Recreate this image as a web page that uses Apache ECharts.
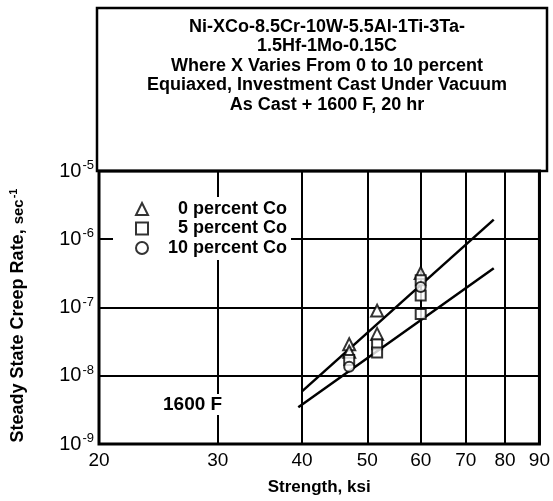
<!DOCTYPE html>
<html>
<head>
<meta charset="utf-8">
<script src="https://cdn.jsdelivr.net/npm/echarts@6/dist/echarts.min.js"></script>
<style>
  html, body { margin: 0; padding: 0; background: #fff; }
  #chart { width: 553px; height: 501px; }
</style>
</head>
<body>
<div id="chart"></div>
<script>
// Strength (ksi) tick values on the log x axis
const strengthTicks = [20, 30, 40, 50, 60, 70, 80, 90];
// Creep-rate decades on the log y axis (sec^-1)
const rateTicks = [1e-9, 1e-8, 1e-7, 1e-6, 1e-5];

// Measured points: [strength ksi, steady state creep rate sec^-1]
const co0Points = [[47, 2.9e-8], [47, 2.25e-8], [51.7, 9e-8], [51.7, 4.1e-8], [60, 3.2e-7]];
const co5Points = [[47, 1.7e-8], [51.7, 2.9e-8], [51.7, 2.2e-8], [60, 2.5e-7], [60, 1.5e-7], [60, 8e-8]];
const co10Points = [[47, 1.35e-8], [60, 2.0e-7]];

// Fitted trend lines (end points)
const upperFit = [[40, 5.9e-9], [77, 1.94e-6]];
const lowerFit = [[39.5, 3.46e-9], [77, 3.75e-7]];

const titleLines = [
  'Ni-XCo-8.5Cr-10W-5.5Al-1Ti-3Ta-',
  '1.5Hf-1Mo-0.15C',
  'Where X Varies From 0 to 10 percent',
  'Equiaxed, Investment Cast Under Vacuum',
  'As Cast + 1600 F, 20 hr'
];

const FONT = '"Liberation Sans", Arial, Helvetica, sans-serif';
const chart = echarts.init(document.getElementById('chart'), null, { renderer: 'canvas' });

const pointStyle = { color: '#fff', borderColor: '#000', borderWidth: 2 };

chart.setOption({
  backgroundColor: '#fff',
  animation: false,
  textStyle: { fontFamily: FONT },
  title: [
    {
      text: titleLines.join('\n'),
      left: 322, top: 12, textAlign: 'center',
      textStyle: { fontFamily: FONT, fontSize: 18, fontWeight: 'bold', color: '#000', lineHeight: 19.5 }
    },
    {
      text: '1600 F',
      left: 160, top: 394,
      padding: [1, 3],
      backgroundColor: '#fff',
      textStyle: { fontFamily: FONT, fontSize: 19, fontWeight: 'bold', color: '#000' }
    }
  ],
  graphic: [
    {
      type: 'rect',
      shape: { x: 97, y: 8, width: 450, height: 163 },
      style: { fill: 'none', stroke: '#000', lineWidth: 2.5 },
      z: 10
    }
  ],
  legend: {
    left: 113, top: 197,
    orient: 'vertical',
    itemGap: 1.5,
    itemWidth: 12, itemHeight: 12,
    backgroundColor: '#fff',
    padding: [3, 4, 3, 22],
    data: ['0 percent Co', '5 percent Co', '10 percent Co'],
    formatter: name => '{t|' + name + '}',
    textStyle: {
      rich: {
        t: { width: 134, align: 'right', fontFamily: FONT, fontSize: 18, fontWeight: 'bold', color: '#000' }
      }
    }
  },
  grid: {
    left: 97, right: 6, top: 171, bottom: 55,
    show: true, borderColor: '#000', borderWidth: 3
  },
  xAxis: {
    type: 'log', logBase: 10,
    min: 20, max: 90,
    name: 'Strength, ksi',
    nameLocation: 'middle', nameGap: 35,
    nameTextStyle: { fontFamily: FONT, fontSize: 17, fontWeight: 'bold', color: '#000' },
    axisLine: { show: false },
    axisTick: { show: false, customValues: strengthTicks },
    axisLabel: {
      customValues: strengthTicks,
      fontFamily: FONT, fontSize: 19, color: '#000', margin: 7,
      formatter: v => String(Math.round(v))
    },
    splitLine: { show: true, lineStyle: { color: '#000', width: 2 } }
  },
  yAxis: {
    type: 'log', logBase: 10,
    min: rateTicks[0], max: rateTicks[rateTicks.length - 1],
    name: '{b|Steady State Creep Rate, }{c|sec}{s|-1}',
    nameLocation: 'middle', nameGap: 70, nameRotate: 90,
    nameTextStyle: {
      padding: [0, 16, 0, 0],
      rich: {
        b: { fontFamily: FONT, fontSize: 18, fontWeight: 'bold', color: '#000' },
        c: { fontFamily: FONT, fontSize: 15, fontWeight: 'bold', color: '#000' },
        s: { fontFamily: FONT, fontSize: 11, fontWeight: 'bold', color: '#000', padding: [0, 0, 10, 1] }
      }
    },
    axisLine: { show: false },
    axisTick: { show: false },
    axisLabel: {
      margin: 5,
      formatter: v => '{n|10}{e|' + Math.round(Math.log10(v)) + '}',
      rich: {
        n: { fontFamily: FONT, fontSize: 20, color: '#000' },
        e: { fontFamily: FONT, fontSize: 13, color: '#000', padding: [0, 0, 11, 1] }
      }
    },
    splitLine: { show: true, lineStyle: { color: '#000', width: 2 } }
  },
  series: [
    {
      type: 'line', data: upperFit, symbol: 'none', silent: true,
      lineStyle: { color: '#000', width: 2.5 }, z: 3
    },
    {
      type: 'line', data: lowerFit, symbol: 'none', silent: true,
      lineStyle: { color: '#000', width: 2.5 }, z: 3
    },
    {
      name: '0 percent Co', type: 'scatter', data: co0Points,
      symbol: 'triangle', symbolSize: 12, itemStyle: pointStyle, z: 4
    },
    {
      name: '5 percent Co', type: 'scatter', data: co5Points,
      symbol: 'rect', symbolSize: 10, itemStyle: pointStyle, z: 4
    },
    {
      name: '10 percent Co', type: 'scatter', data: co10Points,
      symbol: 'circle', symbolSize: 10, itemStyle: pointStyle, z: 4
    }
  ]
});
</script>
</body>
</html>
